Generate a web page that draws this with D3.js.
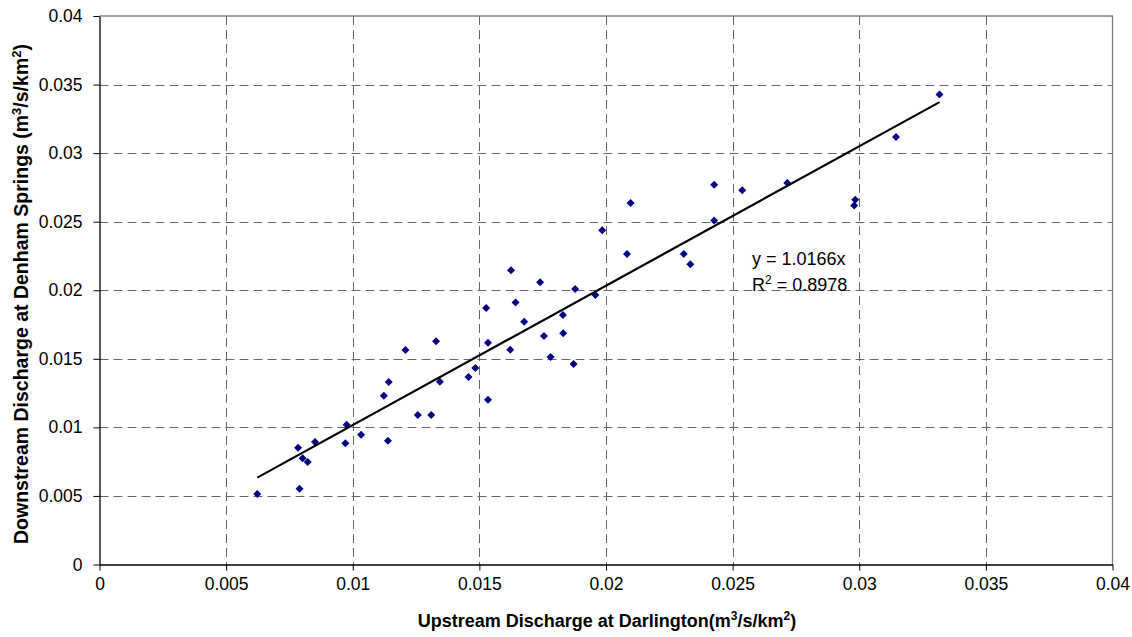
<!DOCTYPE html>
<html>
<head>
<meta charset="utf-8">
<script src="https://cdn.jsdelivr.net/npm/d3@7"></script>
<style>
  body { margin: 0; background: #fff; }
  svg { display: block; font-family: "Liberation Sans", Arial, sans-serif; }
</style>
</head>
<body>
<svg id="chart" width="1132" height="637"></svg>
<script>
// upstream (x) and downstream (y) discharge, m3/s/km2
var upstream = [0.00623, 0.0079, 0.00784, 0.00802, 0.00822, 0.00851, 0.00971, 0.00976, 0.01033, 0.01139,
  0.01123, 0.01142, 0.01208, 0.01257, 0.0131, 0.01329, 0.01344, 0.01457, 0.01484, 0.01527,
  0.01534, 0.01534, 0.01622, 0.01625, 0.01643, 0.01677, 0.0174, 0.01755, 0.01781, 0.0183,
  0.01831, 0.01872, 0.01878, 0.01958, 0.01985, 0.02083, 0.02097, 0.02307, 0.02333, 0.02427,
  0.02427, 0.02538, 0.02716, 0.02984, 0.0298, 0.03145, 0.03317];
var downstream = [0.00515, 0.00552, 0.00851, 0.00774, 0.00747, 0.00893, 0.00885, 0.01019, 0.00946, 0.00902,
  0.01231, 0.01331, 0.01565, 0.0109, 0.0109, 0.01628, 0.01333, 0.01367, 0.01433, 0.01871,
  0.01618, 0.01202, 0.01567, 0.02146, 0.0191, 0.01771, 0.02059, 0.01667, 0.01513, 0.0182,
  0.01686, 0.01462, 0.0201, 0.01966, 0.02438, 0.02265, 0.02637, 0.02265, 0.0219, 0.02769,
  0.02508, 0.0273, 0.02783, 0.0266, 0.02618, 0.03117, 0.03428];
var xTicks = [0, 0.005, 0.01, 0.015, 0.02, 0.025, 0.03, 0.035, 0.04];
var yTicks = [0, 0.005, 0.01, 0.015, 0.02, 0.025, 0.03, 0.035, 0.04];
var slope = 1.0166;
var rSquared = 0.8978;

var svg = d3.select("#chart");
var plotL = 99.5, plotR = 1112.5, plotT = 16, plotB = 564.5;

var x = d3.scaleLinear().domain([0, 0.04]).range([plotL, plotR]);
var y = d3.scaleLinear().domain([0, 0.04]).range([plotB, plotT]);

// grid
svg.append("g").selectAll("line").data(xTicks.slice(1, -1)).enter().append("line")
  .attr("x1", d => Math.round(x(d)) + 0.5).attr("x2", d => Math.round(x(d)) + 0.5)
  .attr("y1", plotT).attr("y2", plotB)
  .attr("stroke", "#666").attr("stroke-dasharray", "9,5");
svg.append("g").selectAll("line").data(yTicks.slice(1, -1)).enter().append("line")
  .attr("y1", d => Math.round(y(d)) + 0.5).attr("y2", d => Math.round(y(d)) + 0.5)
  .attr("x1", plotL).attr("x2", plotR)
  .attr("stroke", "#666").attr("stroke-dasharray", "9,5");

// top / right frame
svg.append("path")
  .attr("d", "M" + plotL + "," + plotT + "H" + plotR + "V" + plotB)
  .attr("fill", "none").attr("stroke", "#808080").attr("stroke-width", 1.3);

// axes
var xAxis = svg.append("g").attr("transform", "translate(0," + plotB + ")")
  .call(d3.axisBottom(x).tickValues(xTicks).tickFormat(d3.format("")).tickSize(6).tickSizeOuter(0).tickPadding(7));
var yAxis = svg.append("g").attr("transform", "translate(" + plotL + ",0)")
  .call(d3.axisLeft(y).tickValues(yTicks).tickFormat(d3.format("")).tickSize(6).tickSizeOuter(0).tickPadding(11));
[xAxis, yAxis].forEach(function (a) {
  a.attr("font-size", 17.5).attr("font-family", "'Liberation Sans', Arial, sans-serif");
  a.select(".domain").attr("stroke", "#000").attr("stroke-width", 1.3);
  a.selectAll(".tick line").attr("stroke", "#000");
  a.selectAll("text").attr("fill", "#000");
});

// points
svg.append("g").selectAll("path").data(upstream).enter().append("path")
  .attr("d", d3.symbol().type(d3.symbolSquare).size(32))
  .attr("transform", (d, i) => "translate(" + x(d) + "," + y(downstream[i]) + ") rotate(45)")
  .attr("fill", "#000080");

// trend line
var xr = d3.extent(upstream);
svg.append("line")
  .attr("x1", x(xr[0])).attr("y1", y(slope * xr[0]))
  .attr("x2", x(xr[1])).attr("y2", y(slope * xr[1]))
  .attr("stroke", "#000").attr("stroke-width", 2.2);

// equation
var eq = svg.append("g").attr("font-size", 18).attr("fill", "#000");
eq.append("text").attr("x", 752).attr("y", 265).text("y = " + slope + "x");
var r2 = eq.append("text").attr("x", 752).attr("y", 291);
r2.append("tspan").text("R");
r2.append("tspan").attr("dy", -7).attr("font-size", 12).text("2");
r2.append("tspan").attr("dy", 7).text(" = " + rSquared);

// axis titles
function unitTitle(sel, label, sup) {
  sel.append("tspan").text(label + "(m");
  sel.append("tspan").attr("dy", -7).attr("font-size", sup).text("3");
  sel.append("tspan").attr("dy", 7).text("/s/km");
  sel.append("tspan").attr("dy", -7).attr("font-size", sup).text("2");
  sel.append("tspan").attr("dy", 7).text(")");
}
var xt = svg.append("text").attr("x", 607).attr("y", 627).attr("text-anchor", "middle")
  .attr("font-size", 18).attr("font-weight", "bold");
unitTitle(xt, "Upstream Discharge at Darlington", 12);

var yt = svg.append("text").attr("transform", "translate(28,294) rotate(-90)").attr("text-anchor", "middle")
  .attr("font-size", 19.5).attr("font-weight", "bold");
unitTitle(yt, "Downstream Discharge at Denham Springs ", 13);
</script>
</body>
</html>
